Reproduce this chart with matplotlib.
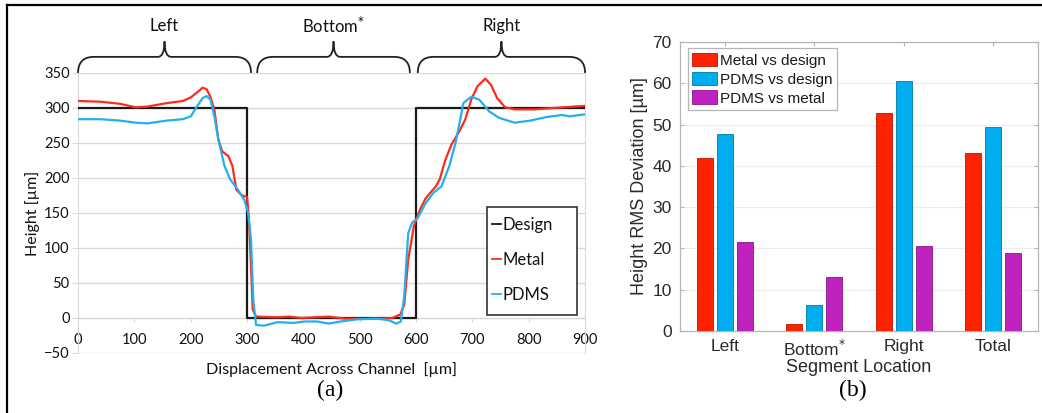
import numpy as np
import matplotlib
matplotlib.use("Agg")
import matplotlib.pyplot as plt
from matplotlib.path import Path
from matplotlib.patches import PathPatch,Rectangle
from matplotlib.lines import Line2D

# ---- panel (a): height profiles ----
design_x=[0,300,300,600,600,900]
design_y=[300,300,0,0,300,300]

metal_x=[0,39,74,102,123,158,186,200,214,221,228,235,242,249,256,267,274,281,291,300,
         303,307,310,316,354,375,396,445,474,530,558,572,579,586,596,607,617,635,642,652,
         663,677,687,698,709,723,733,744,758,775,810,845,880,900]
metal_y=[310,309,306,301,302,307,310,315,324,329,327,316,297,255,238,231,217,183,175,173,
         145,74,12,2,1,2,0,2,-1,-1,0,5,19,83,131,155,171,188,198,226,
         248,267,283,312,331,342,333,314,301,298,298,300,302,303]

pdms_x=[0,39,74,102,123,158,186,200,211,221,228,235,242,249,260,270,284,295,302,307,
        311,316,330,354,382,403,424,445,466,495,530,551,565,573,579,586,593,603,617,631,
        645,659,670,677,684,698,712,730,747,775,803,831,859,873,900]
pdms_y=[284,284,282,279,278,282,284,288,302,314,317,312,288,255,217,198,183,169,150,112,
        26,-10,-11,-6,-7,-5,-5,-8,-5,-2,-1,-3,-8,-5,31,121,136,143,164,179,
        188,217,250,278,307,316,312,295,286,279,282,287,290,288,291]

segments=["Left","Bottom$^{*}$","Right"]
seg_start=[0,318,603]
seg_end=[307,589,900]

# ---- panel (b): RMS deviation ----
groups=["Left","Bottom$^{*}$","Right","Total"]
metal_vs_design=[41.9,1.7,52.8,43.0]
pdms_vs_design=[47.6,6.3,60.5,49.3]
pdms_vs_metal=[21.6,13.0,20.6,18.9]

red="#ff2200"
blue="#00adee"
purple="#bf22bf"

fig=plt.figure(figsize=(10.42,4.13),dpi=100)

# figure frame (top and left only)
fig.add_artist(Line2D([0.0067,1.0],[0.9867,0.9867],color="black",lw=1.6,transform=fig.transFigure))
fig.add_artist(Line2D([0.0067,0.0067],[0.0,0.9867],color="black",lw=1.6,transform=fig.transFigure))

# ---------- (a) ----------
ax1=fig.add_axes([0.0749,0.1453,0.4866,0.678])
fa="Lato"
txt="#111111"
grid_c="#d9d9d9"
ax1.plot(design_x,design_y,color="#1a1a1a",lw=1.6,label="Design",zorder=3)
ax1.plot(metal_x,metal_y,color="#ff2a1a",lw=1.6,label="Metal",zorder=4)
ax1.plot(pdms_x,pdms_y,color="#22b0ee",lw=1.6,label="PDMS",zorder=5)
ax1.set_xlim(0,900)
ax1.set_ylim(-50,350)
ax1.set_yticks(np.arange(-50,351,50))
ax1.set_xticks(np.arange(0,901,100))
ax1.yaxis.grid(True,color=grid_c,lw=1.0)
ax1.set_axisbelow(True)
for s in ["left","right"]:
    ax1.spines[s].set_color(grid_c)
ax1.spines["top"].set_visible(False)
ax1.spines["bottom"].set_position(("data",0))
ax1.spines["bottom"].set_color(grid_c)
ax1.tick_params(axis="y",length=4,color=grid_c,labelsize=10.5,labelcolor=txt,pad=2)
ax1.tick_params(axis="x",length=3,color=grid_c,labelsize=10.5,labelcolor=txt,pad=8)
for t in ax1.get_xticklabels()+ax1.get_yticklabels():
    t.set_fontfamily(fa)
ax1.set_ylabel("Height [µm]",fontfamily=fa,fontsize=11.5,color=txt,labelpad=3)
ax1.text(450,-73,"Displacement Across Channel  [µm]",ha="center",va="center",
         fontfamily=fa,fontsize=11.5,color=txt)

# legend box drawn separately so its wide right margin matches
ax1.add_patch(Rectangle((0.807,0.136),0.177,0.385,transform=ax1.transAxes,
                        fill=True,facecolor="white",edgecolor="#333333",lw=1.2,zorder=6))
leg1=ax1.legend(loc="upper left",bbox_to_anchor=(0.816,0.487),borderaxespad=0,
                prop={"family":fa,"size":12},handlelength=0.55,handletextpad=0.1,
                labelspacing=1.15,borderpad=0,frameon=False)
leg1.set_zorder(7)
for h in leg1.get_lines():
    h.set_linewidth(1.3)
for t in leg1.get_texts():
    t.set_color(txt)

# curly braces above the segments
def brace(ax,a,b,y0=350,y1=373,y2=395,r=28,t=12):
    m=(a+b)/2
    verts=[(a,y0),(a,y1),(a+r,y1),
           (m-t,y1),
           (m,y1),(m,y2),
           (m,y1),(m+t,y1),
           (b-r,y1),
           (b,y1),(b,y0)]
    codes=[Path.MOVETO,Path.CURVE3,Path.CURVE3,
           Path.LINETO,
           Path.CURVE3,Path.CURVE3,
           Path.CURVE3,Path.CURVE3,
           Path.LINETO,
           Path.CURVE3,Path.CURVE3]
    ax.add_patch(PathPatch(Path(verts,codes),fill=False,edgecolor="#222222",lw=1.3,clip_on=False))
    return m

for name,a,b in zip(segments,seg_start,seg_end):
    m=brace(ax1,a,b)
    ax1.text(m,417,name,ha="center",va="center",fontfamily=fa,fontsize=12,color=txt)

fig.text(0.317,0.055,"(a)",ha="center",va="center",fontfamily="Liberation Serif",fontsize=17)

# ---------- (b) ----------
ax2=fig.add_axes([0.6526,0.1985,0.3436,0.6998])
fb="Liberation Sans"
x=np.arange(1,len(groups)+1)
w=0.175
off=0.223
ax2.bar(x-off,metal_vs_design,w,color=red,edgecolor="#b31800",lw=0.6,label="Metal vs design",zorder=3)
ax2.bar(x,pdms_vs_design,w,color=blue,edgecolor="#0079a8",lw=0.6,label="PDMS vs design",zorder=3)
ax2.bar(x+off,pdms_vs_metal,w,color=purple,edgecolor="#861886",lw=0.6,label="PDMS vs metal",zorder=3)
ax2.set_xlim(0.5,4.5)
ax2.set_ylim(0,70)
ax2.set_xticks(x)
ax2.set_xticklabels(groups)
ax2.set_yticks(np.arange(0,71,10))
ax2.yaxis.grid(True,color="#ececec",lw=0.8)
ax2.set_axisbelow(True)
for s in ax2.spines.values():
    s.set_color("#b5b5b5")
    s.set_linewidth(0.9)
ax2.tick_params(direction="in",length=3,color="#b5b5b5",top=True,right=True,
                labelsize=12.5,labelcolor="#2a2a2a",pad=6)
for t in ax2.get_xticklabels()+ax2.get_yticklabels():
    t.set_fontfamily(fb)
ax2.set_ylabel("Height RMS Deviation [µm]",fontfamily=fb,fontsize=13,color="#2a2a2a",labelpad=3)
ax2.set_xlabel("Segment Location",fontfamily=fb,fontsize=13,color="#2a2a2a",labelpad=0)
leg2=ax2.legend(loc="upper left",bbox_to_anchor=(0.022,0.979),borderaxespad=0,
                prop={"family":fb,"size":11},handlelength=1.6,handleheight=1.0,
                handletextpad=0.2,labelspacing=0.25,borderpad=0.3,fancybox=False,framealpha=1)
leg2.get_frame().set_edgecolor("#b5b5b5")
leg2.get_frame().set_linewidth(0.9)
for t in leg2.get_texts():
    t.set_color("#1a1a1a")

fig.text(0.818,0.055,"(b)",ha="center",va="center",fontfamily="Liberation Serif",fontsize=17)

fig.savefig("out.png",dpi=100)
